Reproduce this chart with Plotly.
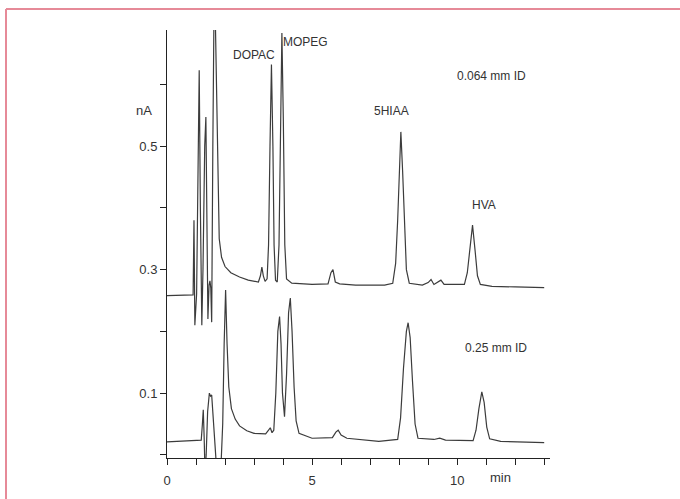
import plotly.graph_objects as go

# Upper chromatogram (0.064 mm ID): time (min), current (nA)
top_t = [0.00, 0.50, 0.90, 0.93, 0.96, 1.02, 1.08, 1.11, 1.15, 1.20, 1.24, 1.30, 1.34, 1.38, 1.41,
         1.45, 1.48, 1.51, 1.54, 1.58, 1.62, 1.66, 1.70, 1.74, 1.80, 1.88, 2.00, 2.20, 2.50, 2.80,
         3.15, 3.22, 3.27, 3.32, 3.38, 3.45, 3.50, 3.55, 3.60, 3.65, 3.69, 3.74, 3.80, 3.86, 3.91,
         3.96, 4.01, 4.06, 4.12, 4.30, 5.00, 5.55, 5.65, 5.72, 5.80, 5.95, 6.50, 7.50, 7.78, 7.88,
         7.95, 8.00, 8.06, 8.12, 8.18, 8.25, 8.35, 8.80, 9.00, 9.10, 9.20, 9.35, 9.44, 9.55, 10.25,
         10.35, 10.43, 10.53, 10.62, 10.70, 10.80, 11.20, 12.00, 13.00]
top_v = [0.258, 0.258, 0.259, 0.380, 0.210, 0.260, 0.560, 0.623, 0.400, 0.210, 0.300, 0.500, 0.547, 0.350, 0.220,
         0.275, 0.282, 0.270, 0.215, 0.500, 0.720, 0.720, 0.600, 0.480, 0.350, 0.320, 0.305, 0.295, 0.288, 0.283,
         0.280, 0.290, 0.304, 0.290, 0.281, 0.285, 0.340, 0.500, 0.632, 0.500, 0.340, 0.283, 0.280, 0.340, 0.530,
         0.683, 0.540, 0.340, 0.285, 0.278, 0.276, 0.277, 0.295, 0.300, 0.280, 0.277, 0.275, 0.275, 0.278, 0.310,
         0.380, 0.460, 0.523, 0.460, 0.370, 0.300, 0.278, 0.275, 0.279, 0.284, 0.276, 0.281, 0.283, 0.276, 0.276,
         0.295, 0.330, 0.372, 0.330, 0.290, 0.276, 0.273, 0.272, 0.271]

# Lower chromatogram (0.25 mm ID)
bot_t = [0.00, 0.50, 1.00, 1.18, 1.22, 1.25, 1.28, 1.31, 1.35, 1.40, 1.46, 1.50, 1.54, 1.58, 1.64,
         1.72, 1.85, 1.92, 1.97, 2.02, 2.07, 2.13, 2.22, 2.35, 2.50, 2.75, 3.00, 3.40, 3.50, 3.56,
         3.62, 3.68, 3.75, 3.82, 3.88, 3.93, 3.98, 4.05, 4.12, 4.19, 4.25, 4.31, 4.38, 4.45, 4.55,
         5.00, 5.70, 5.82, 5.90, 6.00, 6.20, 7.30, 7.95, 8.05, 8.15, 8.25, 8.31, 8.38, 8.46, 8.55,
         8.65, 9.20, 9.40, 9.60, 10.55, 10.65, 10.75, 10.85, 10.93, 11.02, 11.12, 11.50, 13.00]
bot_v = [0.021, 0.022, 0.023, 0.024, 0.050, 0.073, 0.030, -0.030, 0.000, 0.070, 0.100, 0.095, 0.097, 0.070, 0.020,
         -0.030, -0.030, 0.050, 0.180, 0.267, 0.180, 0.110, 0.075, 0.058, 0.047, 0.039, 0.035, 0.034, 0.040, 0.044,
         0.036, 0.040, 0.100, 0.200, 0.224, 0.180, 0.100, 0.062, 0.130, 0.230, 0.254, 0.200, 0.110, 0.055, 0.035,
         0.027, 0.028, 0.037, 0.040, 0.032, 0.027, 0.022, 0.025, 0.060, 0.140, 0.200, 0.214, 0.190, 0.120, 0.050,
         0.027, 0.025, 0.027, 0.024, 0.023, 0.040, 0.075, 0.102, 0.085, 0.045, 0.026, 0.022, 0.020]

x_tickvals = list(range(0, 14))
x_ticktext = ["0", "", "", "", "", "5", "", "", "", "", "10", "", "", ""]
y_tickvals = [0.0, 0.1, 0.2, 0.3, 0.4, 0.5, 0.6]
y_ticktext = ["", "0.1", "", "0.3", "", "0.5", ""]

labels = ["DOPAC", "MOPEG", "0.064 mm ID", "5HIAA", "HVA", "0.25 mm ID"]
label_x = [3.0, 4.78, 11.2, 7.73, 10.93, 11.34]
label_y = [0.648, 0.669, 0.614, 0.557, 0.405, 0.173]

FONT = "Liberation Sans, Arial, sans-serif"
LINE = "#3c3c3c"

fig = go.Figure()
fig.add_trace(go.Scatter(x=top_t, y=top_v, mode="lines",
                         line=dict(color=LINE, width=1.2), showlegend=False, hoverinfo="skip"))
fig.add_trace(go.Scatter(x=bot_t, y=bot_v, mode="lines",
                         line=dict(color=LINE, width=1.2), showlegend=False, hoverinfo="skip"))

for txt, lx, ly in zip(labels, label_x, label_y):
    fig.add_annotation(x=lx, y=ly, text=txt, showarrow=False, xref="x", yref="y",
                       font=dict(family=FONT, size=12, color="#333"))

fig.add_annotation(x=11.48, y=(458 - 478) / 428, text="min", showarrow=False, xref="x", yref="paper",
                   xanchor="center", yanchor="middle", font=dict(family=FONT, size=13, color="#333"))
fig.add_annotation(x=(143.5 - 167) / 383, y=(458 - 110) / 428, text="nA", showarrow=False,
                   xref="paper", yref="paper", xanchor="center", yanchor="middle",
                   font=dict(family=FONT, size=13, color="#333"))

# pink frame
pink = "#e68a98"
fig.add_shape(type="line", xref="paper", yref="paper",
              x0=(6 - 167) / 383, x1=(682 - 167) / 383, y0=(458 - 9) / 428, y1=(458 - 9) / 428,
              line=dict(color=pink, width=2))
fig.add_shape(type="line", xref="paper", yref="paper",
              x0=(6 - 167) / 383, x1=(6 - 167) / 383, y0=(458 - 9) / 428, y1=(458 - 501) / 428,
              line=dict(color=pink, width=2))

fig.update_layout(
    width=680, height=499,
    margin=dict(l=167, r=130, t=30, b=41),
    paper_bgcolor="white", plot_bgcolor="white",
    font=dict(family=FONT, size=13, color="#333"),
    xaxis=dict(range=[0, 13.2], showline=True, linecolor="#222", linewidth=1,
               ticks="outside", ticklen=6, tickcolor="#222",
               tickvals=x_tickvals, ticktext=x_ticktext, ticklabelstandoff=4,
               showgrid=False, zeroline=False, fixedrange=True),
    yaxis=dict(range=[-0.005, 0.688], showline=True, linecolor="#222", linewidth=1,
               ticks="outside", ticklen=6, tickcolor="#222",
               tickvals=y_tickvals, ticktext=y_ticktext,
               showgrid=False, zeroline=False, fixedrange=True),
)

fig.write_html("out.html")
